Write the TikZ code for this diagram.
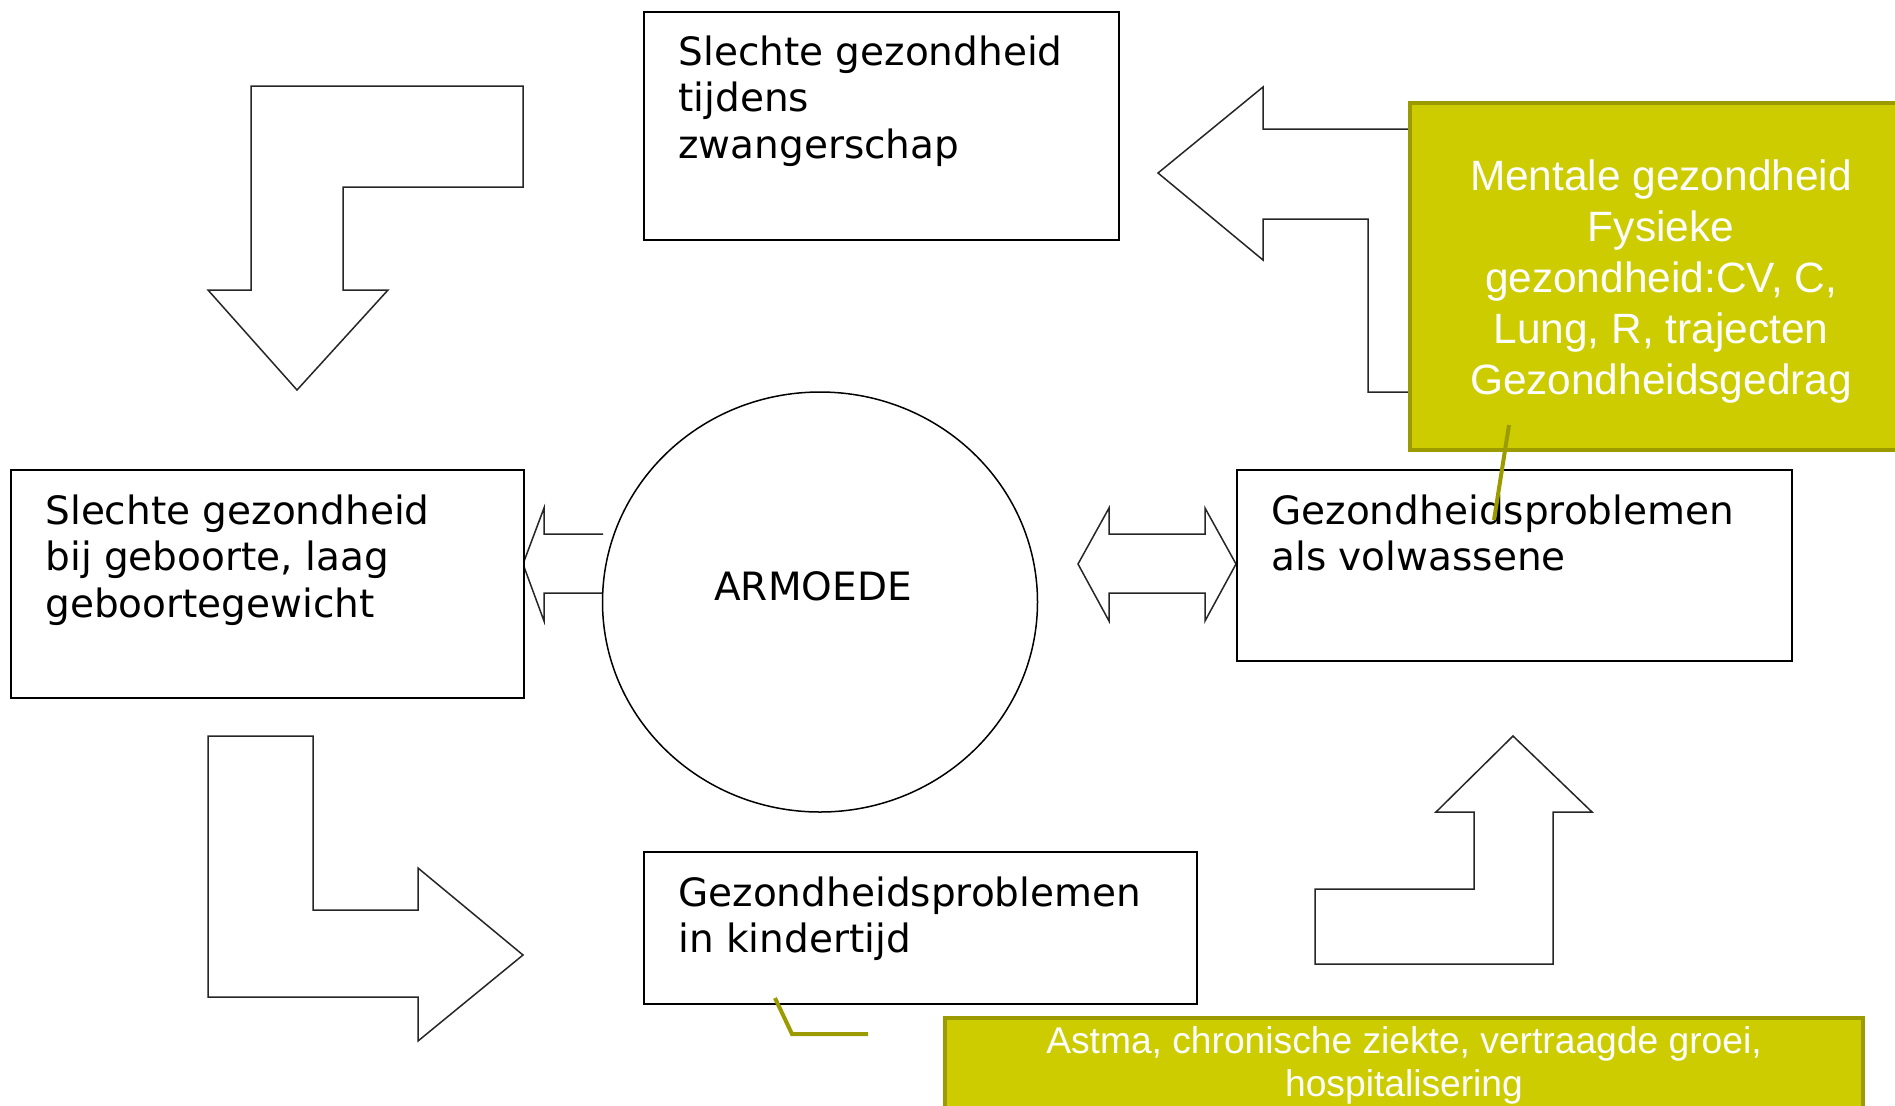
\documentclass[tikz,border=0pt]{standalone}
\usepackage{fontspec}
\newfontfamily\boxfont{DejaVu Sans}
\newfontfamily\notefont{Liberation Sans}
\usetikzlibrary{shapes.geometric, calc}
\definecolor{notegreen}{RGB}{204,204,0}
\definecolor{noteedge}{RGB}{155,155,0}

\begin{document}
\begin{tikzpicture}[x=0.5pt, y=-0.5pt,
  every node/.style={inner sep=0pt},
  stage/.style={draw, line width=1pt, fill=white, anchor=north west},
  stagetext/.style={font=\boxfont\fontsize{19.5}{23.25}\selectfont, align=left, anchor=north west},
  blockarrow/.style={draw=black!85, line width=0.75pt, fill=white},
  note/.style={draw=noteedge, line width=2pt, fill=notegreen, text=white, align=center, anchor=north west},
  callout/.style={draw=noteedge, line width=2pt}
  ]
  \useasboundingbox (0,0) rectangle (1895,1105);
  \clip (0,0) rectangle (1895,1105);

  % block arrows
  \draw[blockarrow] (523,86) -- (251,86) -- (251,290) -- (208,290) -- (297,390) -- (388,290) -- (343,290) -- (343,187) -- (523,187) -- cycle;
  \draw[blockarrow] (208,736) -- (313,736) -- (313,910) -- (418,910) -- (418,868) -- (523,955) -- (418,1041) -- (418,997) -- (208,997) -- cycle;
  \draw[blockarrow] (1315,964) -- (1553,964) -- (1553,812) -- (1592,812) -- (1513,736) -- (1436,812) -- (1474,812) -- (1474,889) -- (1315,889) -- cycle;
  \draw[blockarrow] (1473,129) -- (1263,129) -- (1263,87) -- (1158,173) -- (1263,260) -- (1263,219) -- (1368,219) -- (1368,392) -- (1473,392) -- cycle;
  \draw[blockarrow] (603,534) -- (544,534) -- (544,508) -- (523,564) -- (544,621) -- (544,593) -- (603,593);
  \draw[blockarrow] (1078,564) -- (1109,508) -- (1109,534) -- (1205,534) -- (1205,508) -- (1236,564) -- (1205,621) -- (1205,593) -- (1109,593) -- (1109,621) -- cycle;

  % stages
  \node[stage, minimum width=237.5pt, minimum height=114pt] (pregnancy) at (643,11) {};
  \node[stagetext] (pregnancytext) at ([shift={(35,24)}]pregnancy.north west) {Slechte gezondheid\\tijdens\\zwangerschap};
  \node[stage, minimum width=256.5pt, minimum height=114pt] (birth) at (10,469) {};
  \node[stagetext] (birthtext) at ([shift={(35,25)}]birth.north west) {Slechte gezondheid\\bij geboorte, laag\\geboortegewicht};
  \node[stage, minimum width=277.5pt, minimum height=95.5pt] (adult) at (1236,469) {};
  \node[stagetext] (adulttext) at ([shift={(35,25)}]adult.north west) {Gezondheidsproblemen\\als volwassene};
  \node[stage, minimum width=276.5pt, minimum height=76pt] (child) at (643,851) {};
  \node[stagetext] (childtext) at ([shift={(35,25)}]child.north west) {Gezondheidsproblemen\\in kindertijd};

  \node[draw, ellipse, line width=0.75pt, minimum width=217.5pt, minimum height=210pt] (poverty) at (820,602) {};
  \node[font=\boxfont\fontsize{19.5}{23.25}\selectfont] (povertytext) at ([shift={(-7,-16)}]poverty.center) {ARMOEDE};

  % notes
  \node[note, minimum width=251pt, minimum height=173.5pt, font=\notefont\fontsize{21.2}{25.5}\selectfont] (health) at (1408,101) {\rule{0pt}{20pt}Mentale gezondheid\\Fysieke\\gezondheid:CV, C,\\Lung, R, trajecten\\Gezondheidsgedrag};
  \node[note, minimum width=459pt, minimum height=47.5pt, font=\notefont\fontsize{18.6}{21.75}\selectfont] (illness) at (943,1016) {Astma, chronische ziekte, vertraagde groei,\\hospitalisering};

  \coordinate (healthfoot) at (1509,425);
  \coordinate (adultpoint) at (1494,520);
  \draw[callout] (healthfoot) -- (adultpoint);
  \coordinate (illnessend) at (868,1034);
  \coordinate (illnessknee) at (792,1034);
  \coordinate (childpoint) at (775,998);
  \draw[callout] (illnessend) -- (illnessknee) -- (childpoint);
\end{tikzpicture}
\end{document}
